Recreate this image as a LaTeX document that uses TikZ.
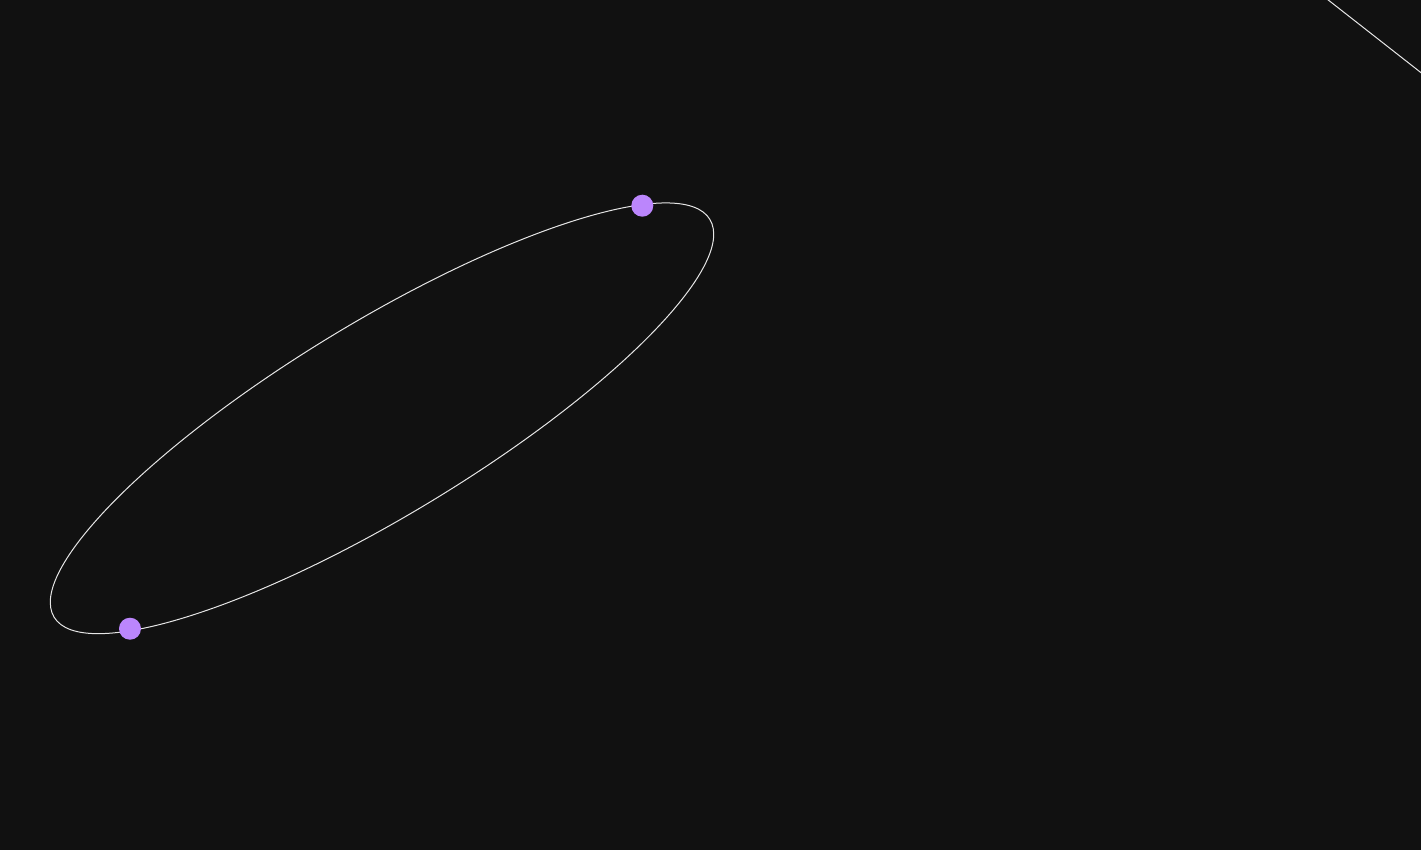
\documentclass[tikz,border=0pt]{standalone}
\definecolor{bgc}{HTML}{111111}
\definecolor{dotc}{HTML}{BB86FC}
\definecolor{linec}{HTML}{E6E6E6}
\tikzset{
  orbit/.style={draw=linec, line width=1pt},
  body/.style={circle, fill=dotc, inner sep=0pt, minimum size=22pt},
}
\begin{document}
\begin{tikzpicture}[x=1pt,y=-1pt]
  \fill[bgc] (0,0) rectangle (1421,850);
  \useasboundingbox (0,0) rectangle (1421,850);
  \coordinate (c) at (382,418.3);
  \draw[orbit, rotate around={31.24:(c)}] (c) ellipse [x radius=383.5pt, y radius=96.5pt];
  \begin{scope}
    \clip (0,0) rectangle (1421,850);
    \coordinate (arcA) at (1318,-8);
    \coordinate (arcB) at (1431,80.5);
    \draw[orbit] (arcA) .. controls (1375,37) .. (arcB);
  \end{scope}
  \node[body] (p1) at (642.3,205.7) {};
  \node[body] (p2) at (130,628.7) {};
\end{tikzpicture}
\end{document}
